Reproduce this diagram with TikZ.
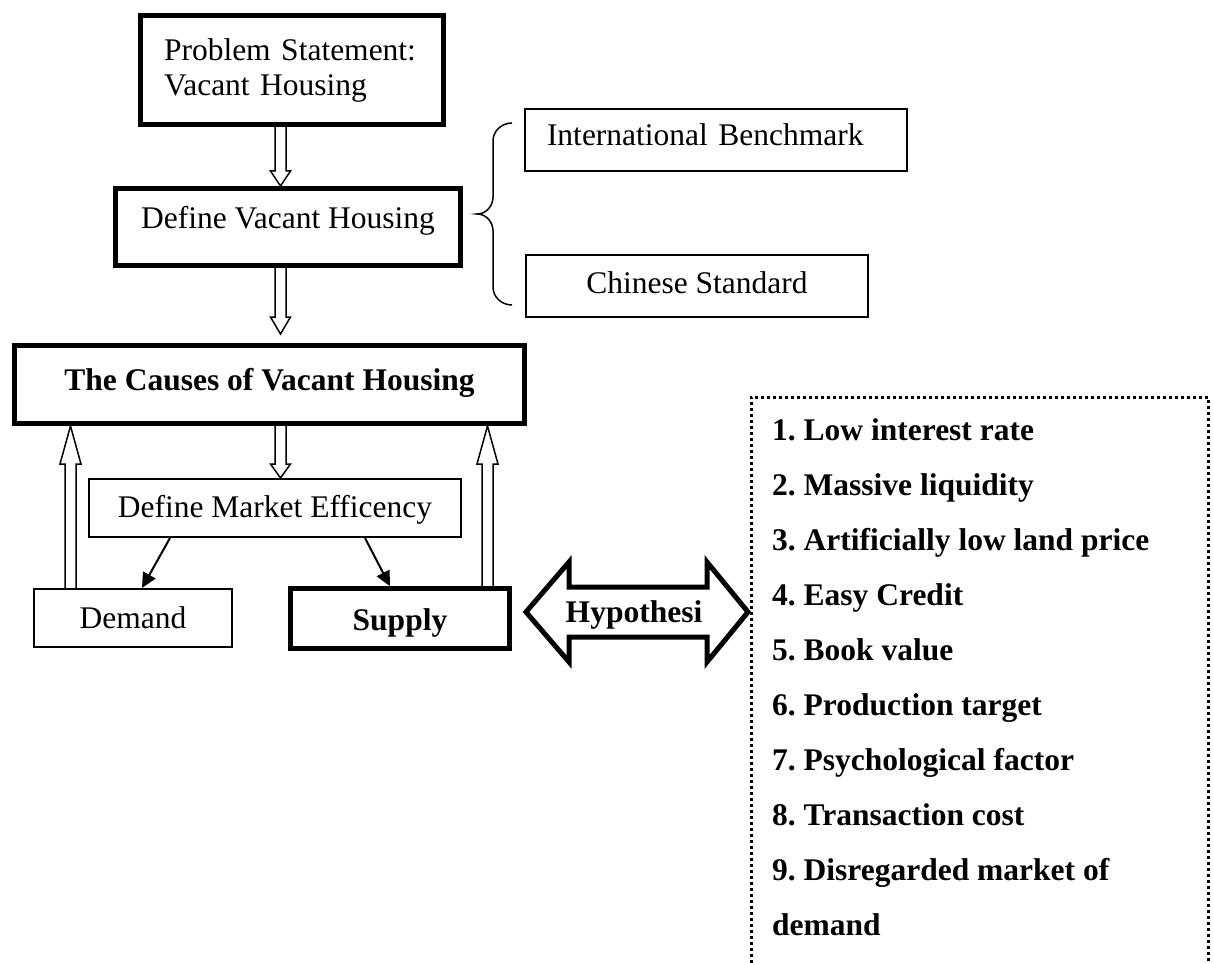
\documentclass[tikz,border=0pt]{standalone}
\usepackage{fontspec}
\setmainfont{Liberation Serif}
\usetikzlibrary{arrows.meta,calc}
\frenchspacing
\newcommand\blockarrow[5]{%
  \draw[hollow] let \p1=(#1), \p2=(#2), \n1={sign(\y2-\y1)} in
    (\x1-#3,\y1) -- (\x1-#3,{\y2-(\n1)*#5}) -- (\x1-#4,{\y2-(\n1)*#5}) -- (\x1,\y2)
    -- (\x1+#4,{\y2-(\n1)*#5}) -- (\x1+#3,{\y2-(\n1)*#5}) -- (\x1+#3,\y1);}
\begin{document}
\begin{tikzpicture}[x=1pt,y=-1pt,
  every node/.style={font=\fontsize{31.5}{35}\selectfont\frenchspacing, inner sep=0pt},
  thickbox/.style={draw, line width=5pt, rectangle},
  thinbox/.style={draw, line width=2pt, rectangle},
  hollow/.style={draw, line width=1.5pt, line join=miter},
  thinarrow/.style={draw, line width=2pt, -{Triangle[length=15pt,width=14pt]}},
  bold/.style={font=\fontsize{31.5}{35}\selectfont\frenchspacing\bfseries}]
\useasboundingbox (0,0) rectangle (1213,963);

% boxes
\node[thickbox, minimum width=303pt, minimum height=109pt, text width=256pt,
      align=left, inner xsep=23.5pt, text height=22pt, text depth=40pt]
  (ps) at (292,70) {Problem Statement:\\Vacant Housing};
\node[thickbox, minimum width=345pt, minimum height=77pt, text height=22pt, text depth=20pt]
  (dv) at (288,227) {Define Vacant Housing};
\node[thinbox, minimum width=382pt, minimum height=62pt, text width=338pt, inner xsep=22pt,
      align=left, text height=22pt, text depth=10pt]
  (ib) at (716,140) {International Benchmark};
\node[thinbox, minimum width=342pt, minimum height=62pt, text height=22pt, text depth=8pt]
  (cs) at (697,286) {Chinese Standard};
\node[thickbox, bold, minimum width=510pt, minimum height=78pt, text height=22pt, text depth=11pt]
  (cv) at (269.5,384.5) {The Causes of Vacant Housing};
\node[thinbox, minimum width=372pt, minimum height=58pt, text height=22pt, text depth=4pt]
  (me) at (275,508) {Define Market Efficency};
\node[thinbox, minimum width=198pt, minimum height=58pt, text height=22pt, text depth=2pt]
  (de) at (133,618) {Demand};
\node[thickbox, bold, line width=4.5pt, minimum width=219pt, minimum height=60pt,
      text height=24pt, text depth=1pt]
  (su) at (400,618.5) {Supply};

% brace
\draw[line width=1.5pt] (512,123) to[out=180,in=90] (493,141) -- (493,197)
  to[out=-90,in=0] (477,214) to[out=0,in=90] (493,231) -- (493,287)
  to[out=-90,in=180] (512,305);

% hollow block arrows
\coordinate (ax) at (280.5,0);
\coordinate (lx) at (70.5,0);
\coordinate (rx) at (487.5,0);
\blockarrow{ps.south -| ax}{dv.north -| ax}{5.5pt}{10pt}{15pt}
\blockarrow{dv.south -| ax}{$(cv.north -| ax)+(0,-9)$}{5.5pt}{10pt}{17pt}
\blockarrow{cv.south -| ax}{me.north -| ax}{5.5pt}{10pt}{14pt}
\blockarrow{de.north -| lx}{cv.south -| lx}{5.5pt}{10.5pt}{38pt}
\blockarrow{su.north -| rx}{cv.south -| rx}{5.5pt}{10.5pt}{38pt}

% thin arrows
\draw[thinarrow] ([xshift=-105pt]me.south) -- ([xshift=9pt]de.north);
\draw[thinarrow] ([xshift=90pt]me.south) -- ([xshift=-10pt]su.north);

% hypothesis double arrow
\coordinate (hl) at (526,612);
\coordinate (hr) at (748,612);
\draw[line width=5pt, line join=miter, miter limit=10]
  (hl) -- (569,562) -- (569,587) -- (707,587) -- (707,562) -- (hr)
  -- (707,662) -- (707,637) -- (569,637) -- (569,662) -- cycle;
\node[bold, anchor=base] (hyp) at (634,622) {Hypothesi};

% hypothesis list
\draw[line width=3pt, dash pattern=on 3pt off 3pt] (751,963) -- (751,397) -- (1208.5,397) -- (1208.5,963);
\foreach \t [count=\i] in {1. Low interest rate, 2. Massive liquidity,
  3. Artificially low land price, 4. Easy Credit, 5. Book value,
  6. Production target, 7. Psychological factor, 8. Transaction cost,
  9. Disregarded market of, demand}
  \node[bold, anchor=base west] (item\i) at (772,{440+55*(\i-1)}) {\t};
\end{tikzpicture}
\end{document}
